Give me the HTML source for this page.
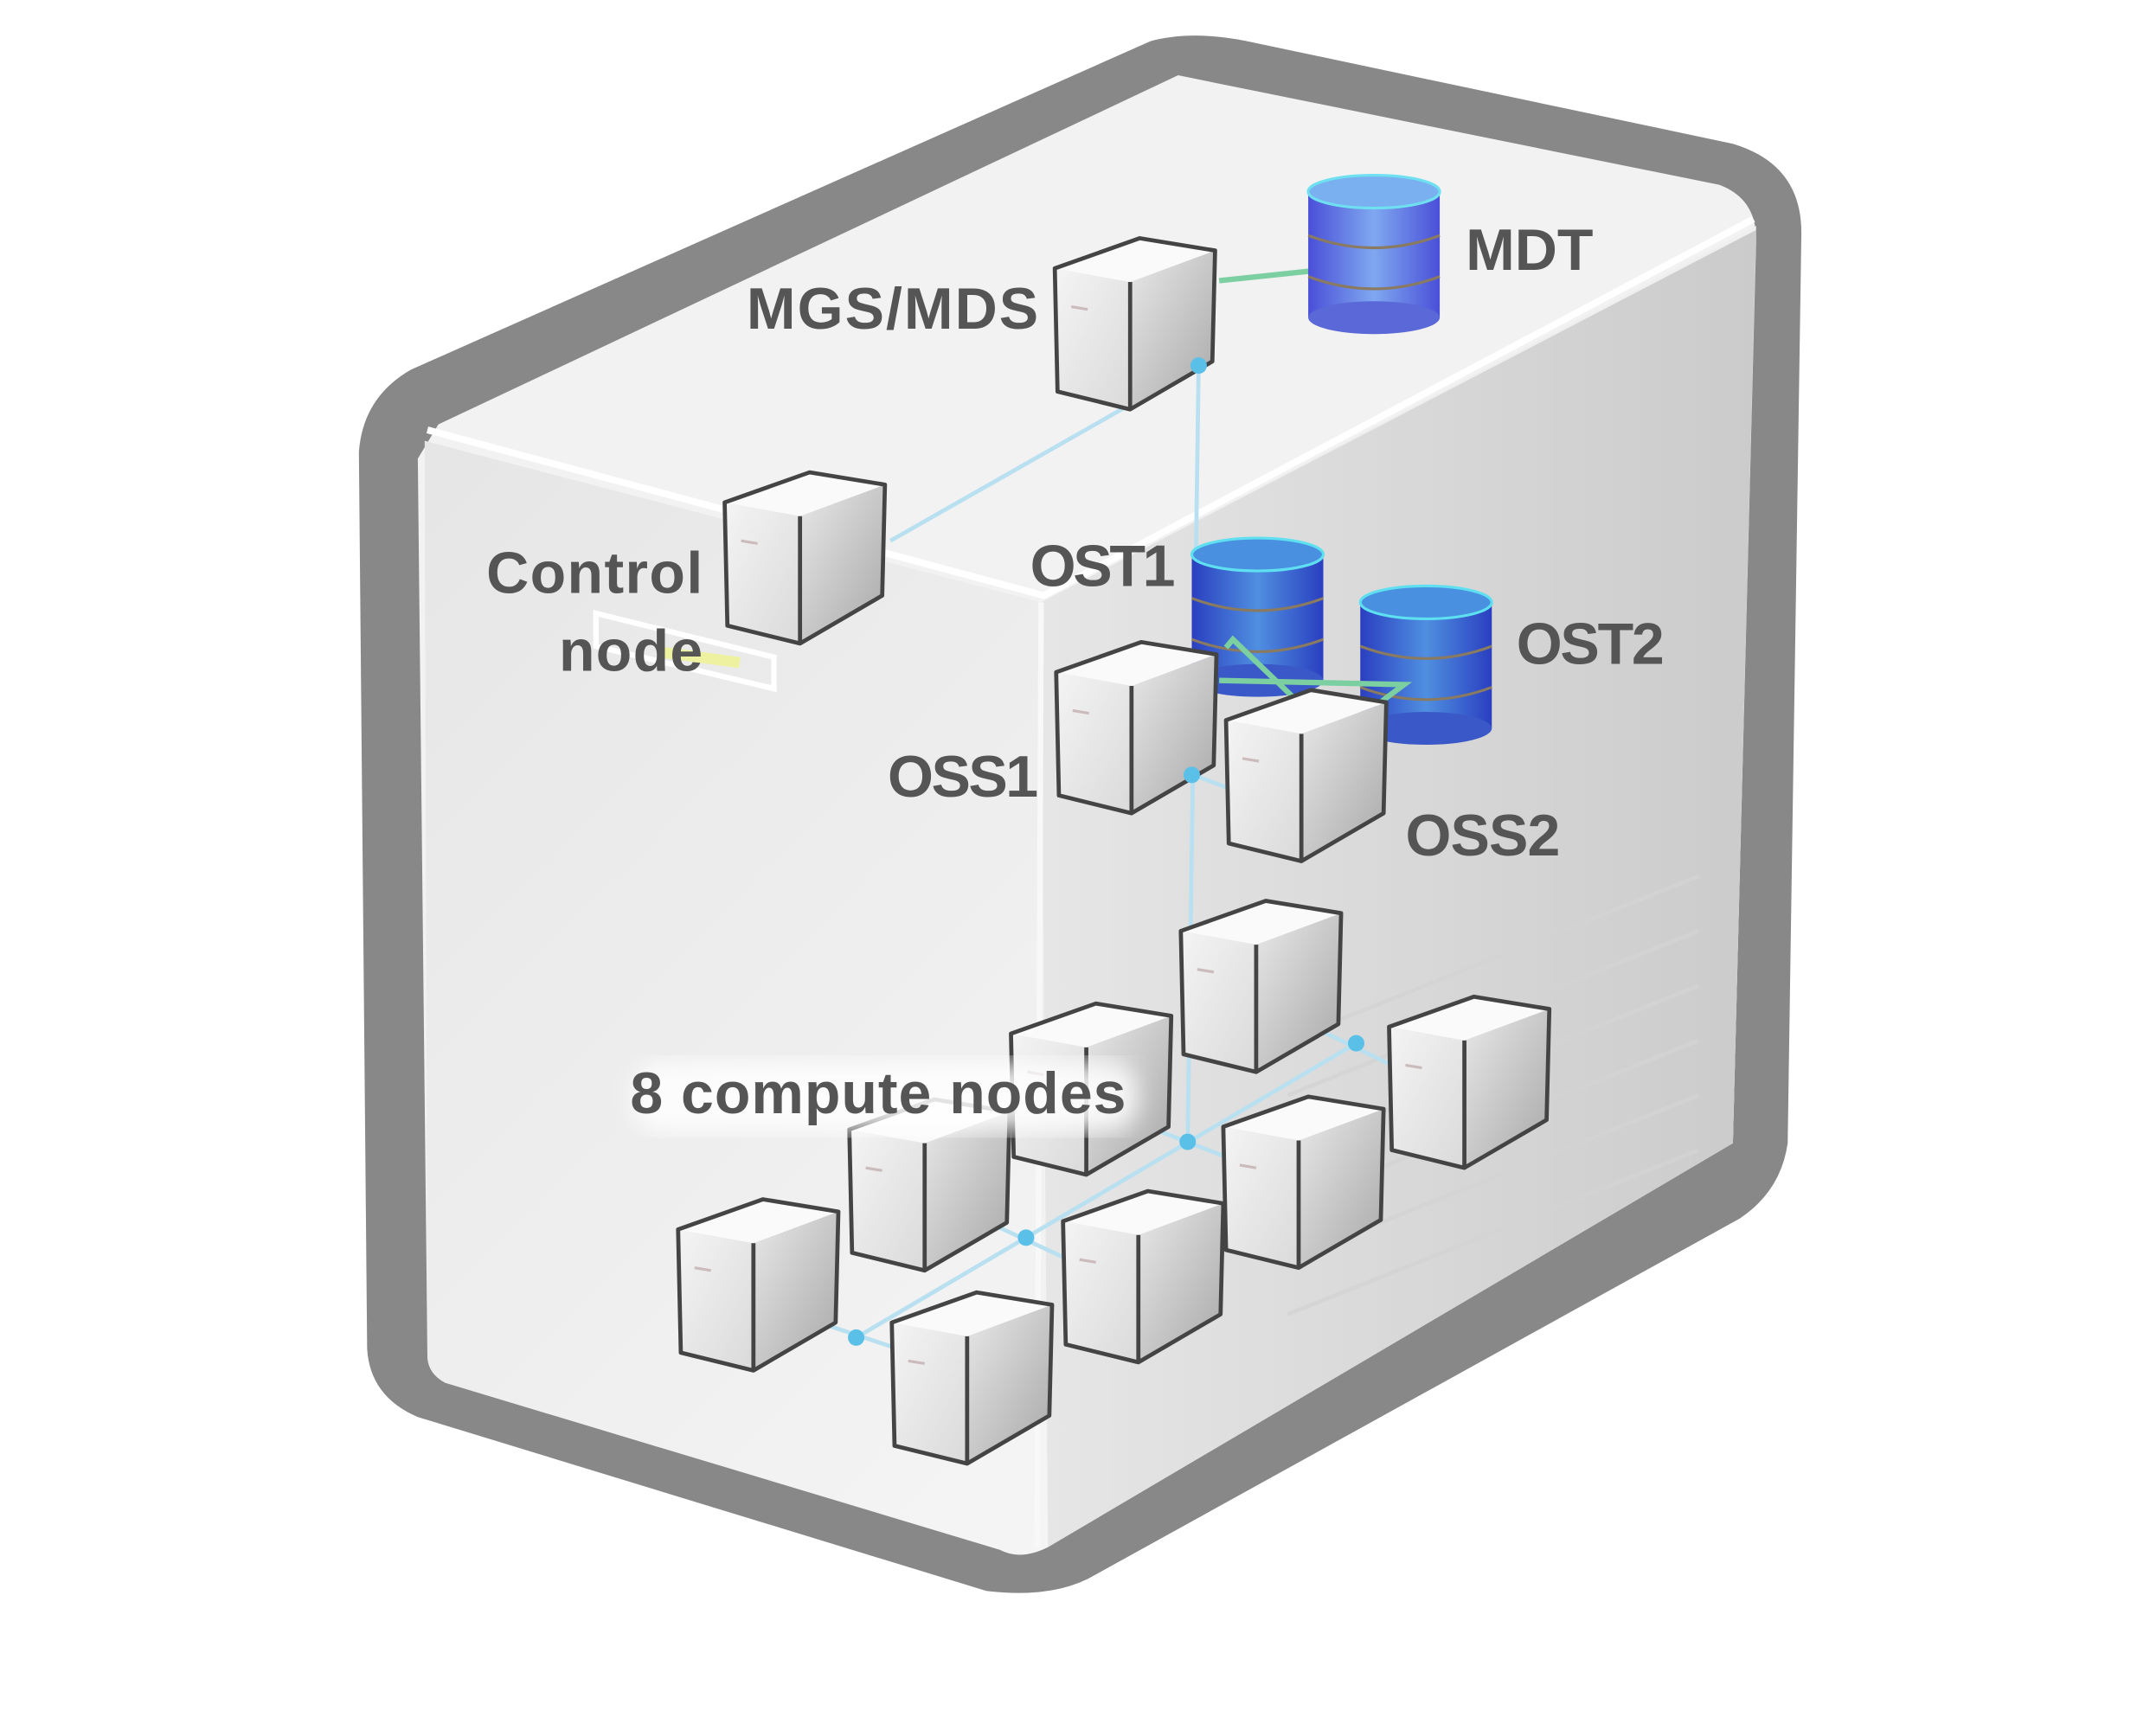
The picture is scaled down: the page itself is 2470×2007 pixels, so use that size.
<!DOCTYPE html>
<html><head><style>html,body{margin:0;padding:0;background:#fff}svg{display:block}</style></head>
<body>
<svg width="2470" height="2007" viewBox="0 0 1560 1268" preserveAspectRatio="none" xmlns="http://www.w3.org/2000/svg">
<defs>
<linearGradient id="lf" x1="0" y1="0" x2="1" y2="1"><stop offset="0" stop-color="#e4e4e4"/><stop offset="1" stop-color="#fbfbfb"/></linearGradient>
<linearGradient id="rf" x1="0" y1="0" x2="1" y2="0"><stop offset="0" stop-color="#e6e6e6"/><stop offset="1" stop-color="#cbcbcb"/></linearGradient>
<linearGradient id="cl" x1="0" y1="0" x2="1" y2="1"><stop offset="0" stop-color="#f4f4f4"/><stop offset="1" stop-color="#dadada"/></linearGradient>
<linearGradient id="cr" x1="0" y1="0" x2="1" y2="1"><stop offset="0" stop-color="#e8e8e8"/><stop offset="1" stop-color="#a8a8a8"/></linearGradient>
<linearGradient id="cyl" x1="0" y1="0" x2="1" y2="0"><stop offset="0" stop-color="#4a4fd8"/><stop offset=".5" stop-color="#7fa8f0"/><stop offset="1" stop-color="#4a4fd8"/></linearGradient>
<linearGradient id="cyl2" x1="0" y1="0" x2="1" y2="0"><stop offset="0" stop-color="#2a3fc0"/><stop offset=".5" stop-color="#4f8fe0"/><stop offset="1" stop-color="#2a3fc0"/></linearGradient>
<g id="cube">
<path d="M0,22 L55,32 L55,125 L2,112 Z" fill="url(#cl)"/>
<path d="M55,32 L117,9 L115,90 L55,125 Z" fill="url(#cr)"/>
<path d="M0,22 L62,0 L117,9 L55,32 Z" fill="#fafafa"/>
<path d="M0,22 L62,0 L117,9 L115,90 L55,125 L2,112 Z M55,32 L55,125" fill="none" stroke="#444" stroke-width="3" stroke-linejoin="round"/>
<line x1="12" y1="50" x2="24" y2="52" stroke="#cbb" stroke-width="2"/>
</g>
<g id="db1">
<rect x="-48" y="12" width="96" height="92" fill="url(#cyl)"/>
<ellipse cx="0" cy="104" rx="48" ry="12" fill="#5a68d8"/>
<path d="M-48,44 Q0,62 48,44 M-48,74 Q0,92 48,74" stroke="#8a7a60" stroke-width="2" fill="none"/>
<ellipse cx="0" cy="12" rx="48" ry="12" fill="#7ab0f0" stroke="#6ee0f0" stroke-width="2"/>
</g>
<g id="db2">
<rect x="-48" y="12" width="96" height="92" fill="url(#cyl2)"/>
<ellipse cx="0" cy="104" rx="48" ry="12" fill="#3a58c8"/>
<path d="M-48,44 Q0,62 48,44 M-48,74 Q0,92 48,74" stroke="#8a7a60" stroke-width="2" fill="none"/>
<ellipse cx="0" cy="12" rx="48" ry="12" fill="#4a90e0" stroke="#5ee0f0" stroke-width="2"/>
</g>
<filter id="glow"><feGaussianBlur stdDeviation="8"/></filter>
</defs>
<path d="M300,270 L840,30 Q870,22 910,30 L1265,105 Q1315,120 1315,170 L1305,835 Q1300,870 1270,890 L800,1150 Q770,1168 720,1162 L305,1035 Q270,1020 268,985 L262,330 Q265,290 300,270 Z" fill="#888"/>
<path d="M320,310 L860,55 L1255,135 Q1282,145 1282,175 L1265,835 L765,1130 Q745,1140 730,1132 L325,1010 Q312,1003 312,990 L305,335 Z" fill="#f2f2f2"/>
<path d="M310,322 L760,440 L1282,165 L1265,835 L765,1130 Q745,1140 730,1132 L325,1010 Q312,1003 312,990 Z" fill="url(#lf)"/>
<path d="M760,440 L1282,168 L1265,835 L765,1130 Z" fill="url(#rf)"/>
<path d="M312,314 L762,435 L1280,160" stroke="#fff" stroke-width="5" fill="none"/>
<line x1="760" y1="440" x2="757" y2="1130" stroke="#f8f8f8" stroke-width="4"/>
<g stroke="#d4d4d4" stroke-width="3" opacity=".8">
<line x1="940" y1="760" x2="1240" y2="640"/><line x1="940" y1="800" x2="1240" y2="680"/><line x1="940" y1="840" x2="1240" y2="720"/><line x1="940" y1="880" x2="1240" y2="760"/><line x1="940" y1="920" x2="1240" y2="800"/><line x1="940" y1="960" x2="1240" y2="840"/>
</g>
<path d="M435,448 L565,480 L565,503 L435,472 Z" fill="none" stroke="#fff" stroke-width="4"/>
<line x1="480" y1="476" x2="540" y2="484" stroke="#eef2a0" stroke-width="8"/>
<g stroke="#b8e0f0" stroke-width="3" fill="none">
<line x1="875" y1="267" x2="650" y2="395"/>
<line x1="850" y1="258" x2="875" y2="267"/>
<line x1="875" y1="267" x2="867" y2="834"/>
<line x1="850" y1="558" x2="895" y2="575"/>
<line x1="990" y1="762" x2="625" y2="977"/>
<line x1="942" y1="742" x2="1020" y2="780"/>
<line x1="830" y1="820" x2="895" y2="845"/>
<line x1="698" y1="882" x2="780" y2="920"/>
<line x1="580" y1="960" x2="655" y2="985"/>
</g>
<g stroke="#7ccfa0" stroke-width="4" fill="none">
<line x1="890" y1="205" x2="985" y2="195"/>
</g>
<use href="#cube" x="770" y="174"/>
<use href="#db1" x="1003" y="128"/>
<use href="#cube" x="529" y="345"/>
<use href="#db2" x="918" y="393"/>
<use href="#db2" x="1041" y="428"/>
<g stroke="#7ccfa0" stroke-width="4" fill="none"><path d="M890,497 L1025,500 L1005,515 M895,473 L900,467 L950,515"/></g>
<use href="#cube" x="771" y="469"/>
<use href="#cube" x="895" y="504"/>
<use href="#cube" x="862" y="658"/>
<use href="#cube" x="738" y="733"/>
<use href="#cube" x="1014" y="728"/>
<use href="#cube" x="620" y="803"/>
<use href="#cube" x="893" y="801"/>
<use href="#cube" x="495" y="876"/>
<use href="#cube" x="776" y="870"/>
<use href="#cube" x="651" y="944"/>
<g fill="#5bc0e8">
<circle cx="875" cy="267" r="6"/><circle cx="870" cy="566" r="6"/><circle cx="990" cy="762" r="6"/><circle cx="867" cy="834" r="6"/><circle cx="749" cy="904" r="6"/><circle cx="625" cy="977" r="6"/>
</g>
<rect x="462" y="776" width="368" height="50" rx="20" fill="#fff" opacity=".85" filter="url(#glow)"/>
<g font-family="Liberation Sans, sans-serif" font-weight="bold" font-size="43" fill="#555">
<text x="545" y="240" textLength="213">MGS/MDS</text>
<text x="1070" y="197" textLength="93">MDT</text>
<text x="355" y="433" textLength="158">Control</text>
<text x="408" y="490" textLength="105">node</text>
<text x="752" y="428" textLength="106">OST1</text>
<text x="1107" y="485" textLength="108">OST2</text>
<text x="648" y="582" textLength="110">OSS1</text>
<text x="1026" y="625" textLength="113">OSS2</text>
<text x="460" y="813" textLength="362">8 compute nodes</text>
</g>
</svg>
</body></html>
